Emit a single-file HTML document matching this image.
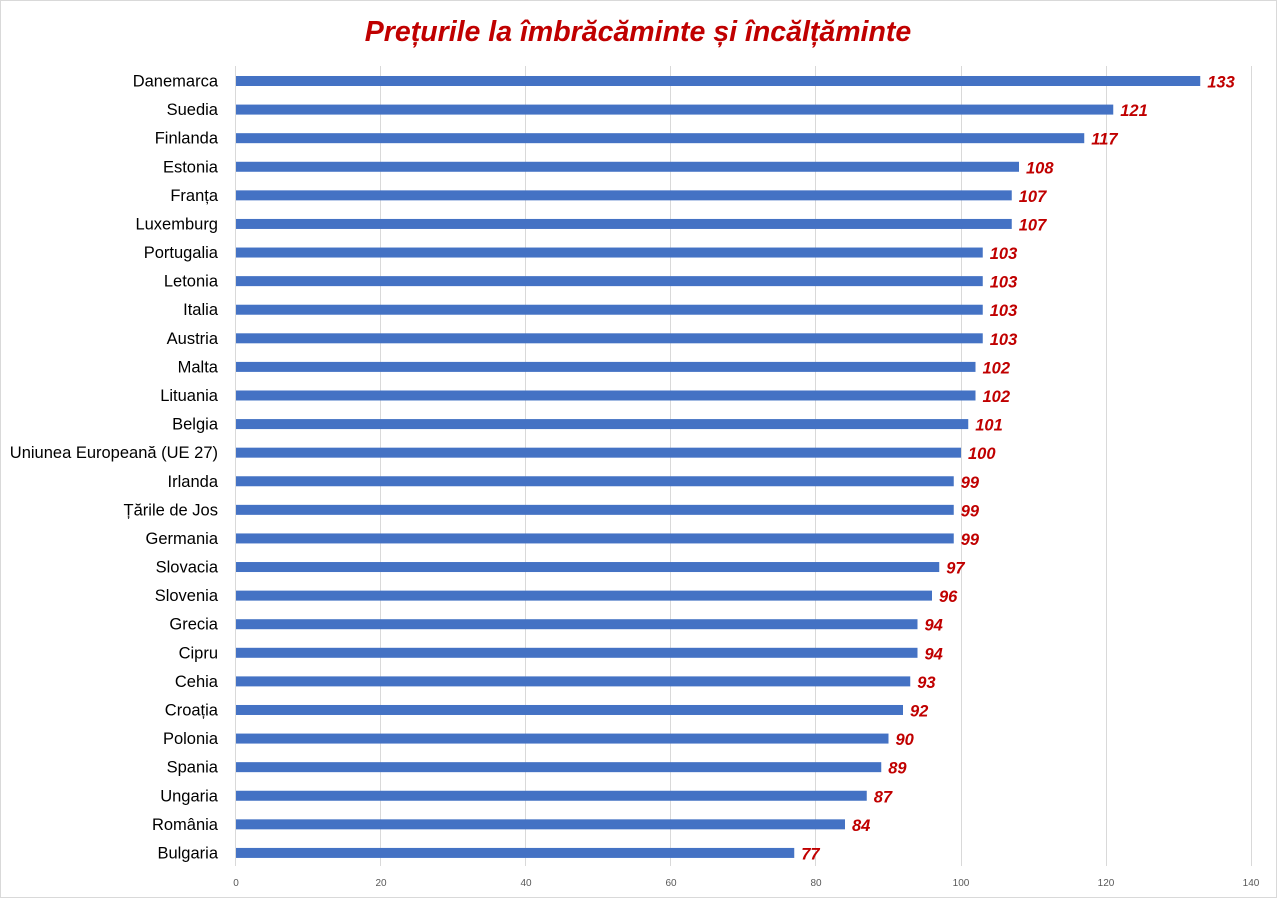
<!DOCTYPE html>
<html><head><meta charset="utf-8"><style>
html,body{margin:0;padding:0;background:#fff}
svg{display:block}
</style></head><body>
<svg width="1277" height="898" xmlns="http://www.w3.org/2000/svg" font-family="Liberation Sans, sans-serif">
<rect x="0.5" y="0.5" width="1276" height="897" fill="#fff" stroke="#d9d9d9"/>
<text x="638" y="41" text-anchor="middle" font-size="28.5" font-weight="bold" font-style="italic" fill="#c00000">Prețurile la îmbrăcăminte și încălțăminte</text>
<g stroke="#d9d9d9" stroke-width="1">
<line x1="235.5" y1="66" x2="235.5" y2="866"/>
<line x1="380.5" y1="66" x2="380.5" y2="866"/>
<line x1="525.5" y1="66" x2="525.5" y2="866"/>
<line x1="670.5" y1="66" x2="670.5" y2="866"/>
<line x1="815.5" y1="66" x2="815.5" y2="866"/>
<line x1="961.5" y1="66" x2="961.5" y2="866"/>
<line x1="1106.5" y1="66" x2="1106.5" y2="866"/>
<line x1="1251.5" y1="66" x2="1251.5" y2="866"/>
</g>
<g font-size="10" fill="#595959" text-anchor="middle">
<text x="236" y="886">0</text><text x="381" y="886">20</text><text x="526" y="886">40</text><text x="671" y="886">60</text><text x="816" y="886">80</text><text x="961" y="886">100</text><text x="1106" y="886">120</text><text x="1251" y="886">140</text>
</g>
<g id="rows"></g>
</svg>
<script>
var d=[["Danemarca",133],["Suedia",121],["Finlanda",117],["Estonia",108],["Franța",107],["Luxemburg",107],["Portugalia",103],["Letonia",103],["Italia",103],["Austria",103],["Malta",102],["Lituania",102],["Belgia",101],["Uniunea Europeană (UE 27)",100],["Irlanda",99],["Țările de Jos",99],["Germania",99],["Slovacia",97],["Slovenia",96],["Grecia",94],["Cipru",94],["Cehia",93],["Croația",92],["Polonia",90],["Spania",89],["Ungaria",87],["România",84],["Bulgaria",77]];
var g=document.getElementById('rows'),s='';
d.forEach(function(r,i){var c=81+i*28.59,w=r[1]*7.25;
s+='<rect x="236" y="'+(c-5)+'" width="'+w+'" height="10" fill="#4472c4"/>';
s+='<text x="218" y="'+(c+5.5)+'" text-anchor="end" font-size="16.5" fill="#000">'+r[0]+'</text>';
s+='<text x="'+(236+w+7)+'" y="'+(c+6.5)+'" font-size="16.5" font-weight="bold" font-style="italic" fill="#c00000">'+r[1]+'</text>';});
g.innerHTML=s;
</script>
</body></html>
